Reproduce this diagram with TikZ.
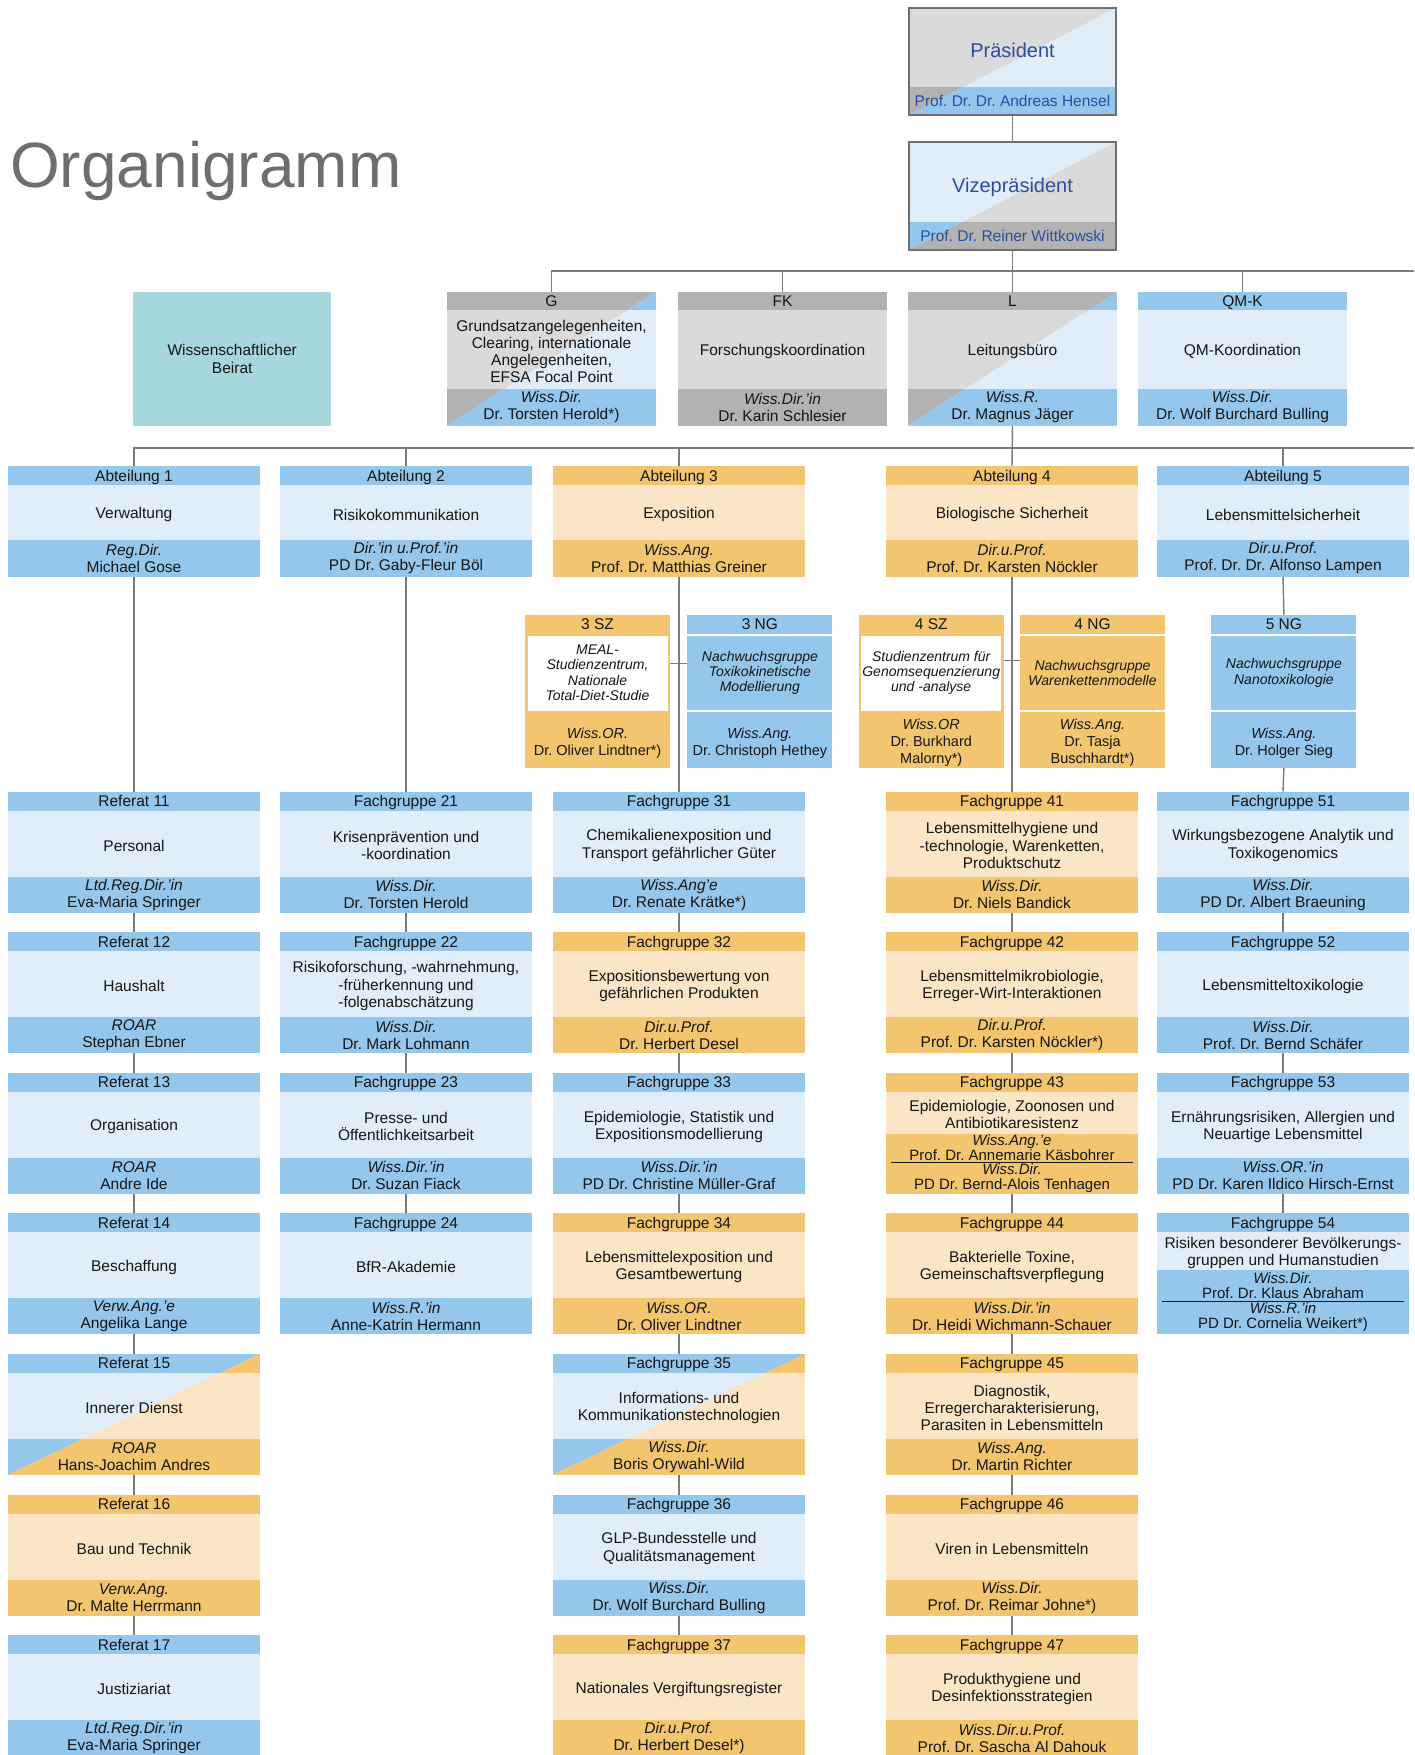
\documentclass[tikz,border=0pt]{standalone}
\usepackage{fontspec}
\setmainfont{Liberation Sans}

\definecolor{blueD}{HTML}{95C6EB}
\definecolor{blueL}{HTML}{E1EDF8}
\definecolor{orangeD}{HTML}{F2C56E}
\definecolor{orangeL}{HTML}{FAE6C6}
\definecolor{grayD}{HTML}{B2B2B2}
\definecolor{grayL}{HTML}{DADADA}
\definecolor{teal}{HTML}{A6D7DC}
\definecolor{chiefblue}{HTML}{2B4EA0}
\definecolor{titlegray}{HTML}{6E6E6E}
\definecolor{linkgray}{HTML}{7A7A7A}
\definecolor{framegray}{HTML}{6F6F6F}
\definecolor{ink}{HTML}{161616}

\def\boxw{252}\def\boxh{121}\def\headh{19}\def\footh{36}
\def\footfont{\fontsize{15.5}{17}\selectfont}
\def\footdrop{0}

\tikzset{
  orgunit/.style={rectangle, inner sep=0pt, outer sep=0pt, anchor=north west,
    minimum width=\boxw, minimum height=\boxh},
  headtext/.style={inner sep=0pt, text=ink, text height=11.1pt, text depth=0pt,
    font=\fontsize{15.5}{17}\selectfont},
  bodytext/.style={inner sep=0pt, align=center, text=ink, yshift=-2pt,
    font=\fontsize{15.5}{17.2}\selectfont},
  sidetext/.style={inner sep=0pt, align=center, text=ink,
    font=\fontsize{14}{15.3}\selectfont\itshape},
  foottext/.style={inner sep=0pt, align=center, text=ink, font=\footfont},
  chieftitle/.style={inner sep=0pt, text=chiefblue, text height=14.3pt, text depth=0pt,
    font=\fontsize{20}{24}\selectfont},
  chiefname/.style={inner sep=0pt, text=chiefblue, text height=11.1pt, text depth=0pt,
    font=\fontsize{15.5}{17}\selectfont},
  chiefframe/.style={draw=framegray, line width=2.2pt},
  beirat/.style={rectangle, anchor=north west, inner sep=0pt, fill=teal, text=ink,
    minimum width=198, minimum height=133.5, align=center,
    font=\fontsize{15.5}{17.2}\selectfont},
  titletext/.style={anchor=base west, inner sep=0pt, text=titlegray,
    font=\fontsize{64}{70}\selectfont},
  link/.style={draw=linkgray, line width=1.4pt},
  sepline/.style={draw=ink, line width=0.9pt},
}

% the three colour bands of a unit
\newcommand\bands[2]{%
  \fill[#2L] (#1.north west) rectangle (#1.south east);
  \fill[#2D] (#1.north west) rectangle ([yshift=-\headh]#1.north east);
  \fill[#2D] ([yshift=\footh]#1.south west) rectangle (#1.south east);
}

% [split scheme]{name}{x}{y}{scheme}{head}{body}{title}{person}
\newcommand\orgbox[9][]{%
  \node[orgunit] (#2) at (#3,#4) {};
  \bands{#2}{#5}
  \ifx\relax#1\relax\else
    \begin{scope}
      \clip (#2.south west) -- (#2.north east) -- (#2.south east) -- cycle;
      \bands{#2}{#1}
    \end{scope}
  \fi
  \node[headtext] at ([yshift={-\headh/2}]#2.north) {#6};
  \node[bodytext] at ([yshift={-\headh-(\boxh-\headh-\footh)/2}]#2.north) {#7};
  \node[foottext] at ([yshift={\footh/2}]#2.south) {\textit{#8}\\#9};
}

% {s|n}{name}{x}{scheme}{head}{body}{title}{person}
\newcommand\sidebox[8]{%
  \node[orgunit] (#2) at (#3,614.7) {};
  \fill[#4D] (#2.north west) rectangle (#2.south east);
  \if s#1
    \fill[white] ([xshift=2.5,yshift={-\headh-2}]#2.north west)
      rectangle ([xshift=-2.5,yshift={\footh+1.5}]#2.south east);
  \else
    \fill[white] ([yshift=-\headh]#2.north west) rectangle ([yshift={-\headh-2}]#2.north east);
    \fill[white] ([yshift=\footh]#2.south west) rectangle ([yshift={\footh+2}]#2.south east);
  \fi
  \node[headtext] at ([yshift={-\headh/2}]#2.north) {#5};
  \node[sidetext] at ([yshift={-\headh-(\boxh-\headh-\footh)/2}]#2.north) {#6};
  \node[foottext] at ([yshift={\footh/2-3}]#2.south) {\textit{#7}\\#8};
}

% {name}{y}{scheme}{split scheme}{title}{person}
\newcommand\chiefbox[6]{%
  \node[orgunit] (#1) at (909,#2) {};
  \bands{#1}{#3}
  \begin{scope}
    \clip (#1.south west) -- (#1.north east) -- (#1.south east) -- cycle;
    \bands{#1}{#4}
  \end{scope}
  \node[chieftitle] at ([yshift={-(\boxh-\footh)/2-3}]#1.north) {#5};
  \node[chiefname] at ([yshift={\footh/2}]#1.south) {#6};
  \draw[chiefframe] (#1.north west) rectangle (#1.south east);
}

\begin{document}
\frenchspacing
\begin{tikzpicture}[x=1pt, y=-1pt]
\useasboundingbox (0,0) rectangle (1414,1755);

\node[titletext] (title) at (10,188) {Organigramm};

% Leitung
\def\boxw{207}\def\headh{0}\def\footh{28}
\def\boxh{107}\chiefbox{pres}{8}{gray}{blue}{Präsident}{Prof. Dr. Dr. Andreas Hensel}
\def\boxh{108}\chiefbox{vize}{142}{blue}{gray}{Vizepräsident}{Prof. Dr. Reiner Wittkowski}

% Stabsstellen
\def\boxw{209}\def\boxh{133.5}\def\headh{18}\def\footh{36.5}
\node[beirat] (beirat) at (133,292) {Wissenschaftlicher\\Beirat};
\orgbox[blue]{g}{447}{292}{gray}{G}{Grundsatzangelegenheiten,\\Clearing, internationale\\Angelegenheiten,\\EFSA Focal Point}{Wiss.Dir.}{Dr. Torsten Herold*)}
\orgbox{fk}{678}{292}{gray}{FK}{Forschungskoordination}{Wiss.Dir.'in}{Dr. Karin Schlesier}
\orgbox[blue]{l}{908}{292}{gray}{L}{Leitungsbüro}{Wiss.R.}{Dr. Magnus Jäger}
\orgbox{qmk}{1138}{292}{blue}{QM-K}{QM-Koordination}{Wiss.Dir.}{Dr. Wolf Burchard Bulling}

% Abteilungen
\def\boxw{252}\def\boxh{110.6}\def\headh{19}\def\footh{36.6}
\orgbox{abt1}{8}{466}{blue}{Abteilung 1}{Verwaltung}{Reg.Dir.}{Michael Gose}
\orgbox{abt2}{280}{466}{blue}{Abteilung 2}{Risikokommunikation}{Dir.'in u.Prof.'in}{PD Dr. Gaby-Fleur Böl}
\orgbox{abt3}{553}{466}{orange}{Abteilung 3}{Exposition}{Wiss.Ang.}{Prof. Dr. Matthias Greiner}
\orgbox{abt4}{886}{466}{orange}{Abteilung 4}{Biologische Sicherheit}{Dir.u.Prof.}{Prof. Dr. Karsten Nöckler}
\orgbox{abt5}{1157}{466}{blue}{Abteilung 5}{Lebensmittelsicherheit}{Dir.u.Prof.}{Prof. Dr. Dr. Alfonso Lampen}

% Studienzentren und Nachwuchsgruppen
\def\boxw{145}\def\boxh{153.3}\def\headh{19}\def\footh{56}
\def\footfont{\fontsize{14.5}{17}\selectfont}
\sidebox{s}{sz3}{525}{orange}{3 SZ}{MEAL-\\Studienzentrum,\\Nationale\\Total-Diet-Studie}{Wiss.OR.}{Dr. Oliver Lindtner*)}
\sidebox{n}{ng3}{687.4}{blue}{3 NG}{Nachwuchsgruppe\\Toxikokinetische\\Modellierung}{Wiss.Ang.}{Dr. Christoph Hethey}
\sidebox{s}{sz4}{858.7}{orange}{4 SZ}{Studienzentrum für\\Genomsequenzierung\\und -analyse}{Wiss.OR}{Dr. Burkhard\\Malorny*)}
\sidebox{n}{ng4}{1020}{orange}{4 NG}{Nachwuchsgruppe\\Warenkettenmodelle}{Wiss.Ang.}{Dr. Tasja\\Buschhardt*)}
\sidebox{n}{ng5}{1211.4}{blue}{5 NG}{Nachwuchsgruppe\\Nanotoxikologie}{Wiss.Ang.}{Dr. Holger Sieg}

% Referate und Fachgruppen
\def\boxw{252}\def\boxh{121}\def\headh{19}\def\footh{36}
\def\footfont{\fontsize{15.5}{17}\selectfont}
\orgbox{ref11}{8}{791.5}{blue}{Referat 11}{Personal}{Ltd.Reg.Dir.'in}{Eva-Maria Springer}
\orgbox{ref12}{8}{932.1}{blue}{Referat 12}{Haushalt}{ROAR}{Stephan Ebner}
\orgbox{ref13}{8}{1072.7}{blue}{Referat 13}{Organisation}{ROAR}{Andre Ide}
\orgbox{ref14}{8}{1213.3}{blue}{Referat 14}{Beschaffung}{Verw.Ang.'e}{Angelika Lange}
\orgbox[orange]{ref15}{8}{1353.9}{blue}{Referat 15}{Innerer Dienst}{ROAR}{Hans-Joachim Andres}
\orgbox{ref16}{8}{1494.5}{orange}{Referat 16}{Bau und Technik}{Verw.Ang.}{Dr. Malte Herrmann}
\orgbox{ref17}{8}{1635.1}{blue}{Referat 17}{Justiziariat}{Ltd.Reg.Dir.'in}{Eva-Maria Springer}

\orgbox{fg21}{280}{791.5}{blue}{Fachgruppe 21}{Krisenprävention und\\-koordination}{Wiss.Dir.}{Dr. Torsten Herold}
\orgbox{fg22}{280}{932.1}{blue}{Fachgruppe 22}{Risikoforschung, -wahrnehmung,\\-früherkennung und\\-folgenabschätzung}{Wiss.Dir.}{Dr. Mark Lohmann}
\orgbox{fg23}{280}{1072.7}{blue}{Fachgruppe 23}{Presse- und\\Öffentlichkeitsarbeit}{Wiss.Dir.'in}{Dr. Suzan Fiack}
\orgbox{fg24}{280}{1213.3}{blue}{Fachgruppe 24}{BfR-Akademie}{Wiss.R.'in}{Anne-Katrin Hermann}

\orgbox{fg31}{553}{791.5}{blue}{Fachgruppe 31}{Chemikalienexposition und\\Transport gefährlicher Güter}{Wiss.Ang'e}{Dr. Renate Krätke*)}
\orgbox{fg32}{553}{932.1}{orange}{Fachgruppe 32}{Expositionsbewertung von\\gefährlichen Produkten}{Dir.u.Prof.}{Dr. Herbert Desel}
\orgbox{fg33}{553}{1072.7}{blue}{Fachgruppe 33}{Epidemiologie, Statistik und\\Expositionsmodellierung}{Wiss.Dir.'in}{PD Dr. Christine Müller-Graf}
\orgbox{fg34}{553}{1213.3}{orange}{Fachgruppe 34}{Lebensmittelexposition und\\Gesamtbewertung}{Wiss.OR.}{Dr. Oliver Lindtner}
\orgbox[orange]{fg35}{553}{1353.9}{blue}{Fachgruppe 35}{Informations- und\\Kommunikationstechnologien}{Wiss.Dir.}{Boris Orywahl-Wild}
\orgbox{fg36}{553}{1494.5}{blue}{Fachgruppe 36}{GLP-Bundesstelle und\\Qualitätsmanagement}{Wiss.Dir.}{Dr. Wolf Burchard Bulling}
\orgbox{fg37}{553}{1635.1}{orange}{Fachgruppe 37}{Nationales Vergiftungsregister}{Dir.u.Prof.}{Dr. Herbert Desel*)}

\orgbox{fg41}{886}{791.5}{orange}{Fachgruppe 41}{Lebensmittelhygiene und\\-technologie, Warenketten,\\Produktschutz}{Wiss.Dir.}{Dr. Niels Bandick}
\orgbox{fg42}{886}{932.1}{orange}{Fachgruppe 42}{Lebensmittelmikrobiologie,\\Erreger-Wirt-Interaktionen}{Dir.u.Prof.}{Prof. Dr. Karsten Nöckler*)}
{\def\footh{60}\def\footfont{\fontsize{15}{14.8}\selectfont}
\orgbox{fg43}{886}{1072.7}{orange}{Fachgruppe 43}{Epidemiologie, Zoonosen und\\Antibiotikaresistenz}{Wiss.Ang.'e}{Prof. Dr. Annemarie Käsbohrer\\\textit{Wiss.Dir.}\\PD Dr. Bernd-Alois Tenhagen}}
\draw[sepline] ([xshift=5,yshift=31]fg43.south west) -- ([xshift=-5,yshift=31]fg43.south east);
\orgbox{fg44}{886}{1213.3}{orange}{Fachgruppe 44}{Bakterielle Toxine,\\Gemeinschaftsverpflegung}{Wiss.Dir.'in}{Dr. Heidi Wichmann-Schauer}
\orgbox{fg45}{886}{1353.9}{orange}{Fachgruppe 45}{Diagnostik,\\Erregercharakterisierung,\\Parasiten in Lebensmitteln}{Wiss.Ang.}{Dr. Martin Richter}
\orgbox{fg46}{886}{1494.5}{orange}{Fachgruppe 46}{Viren in Lebensmitteln}{Wiss.Dir.}{Prof. Dr. Reimar Johne*)}
\orgbox{fg47}{886}{1635.1}{orange}{Fachgruppe 47}{Produkthygiene und\\Desinfektionsstrategien}{Wiss.Dir.u.Prof.}{Prof. Dr. Sascha Al Dahouk}

\orgbox{fg51}{1157}{791.5}{blue}{Fachgruppe 51}{Wirkungsbezogene Analytik und\\Toxikogenomics}{Wiss.Dir.}{PD Dr. Albert Braeuning}
\orgbox{fg52}{1157}{932.1}{blue}{Fachgruppe 52}{Lebensmitteltoxikologie}{Wiss.Dir.}{Prof. Dr. Bernd Schäfer}
\orgbox{fg53}{1157}{1072.7}{blue}{Fachgruppe 53}{Ernährungsrisiken, Allergien und\\Neuartige Lebensmittel}{Wiss.OR.'in}{PD Dr. Karen Ildico Hirsch-Ernst}
{\def\footh{64}\def\footfont{\fontsize{15}{14.8}\selectfont}
\orgbox{fg54}{1157}{1213.3}{blue}{Fachgruppe 54}{Risiken besonderer Bevölkerungs-\\gruppen und Humanstudien}{Wiss.Dir.}{Prof. Dr. Klaus Abraham\\\textit{Wiss.R.'in}\\PD Dr. Cornelia Weikert*)}}
\draw[sepline] ([xshift=5,yshift=32.5]fg54.south west) -- ([xshift=-5,yshift=32.5]fg54.south east);

% connectors
\coordinate (bus1) at (1414,271);
\coordinate (bus2) at (1414,448);
\draw[link] (g.north) |- (bus1);
\foreach \n in {fk,qmk}
  \draw[link] (\n.north) -- (\n.north |- bus1);
\draw[link] (abt1.north) |- (bus2);
\foreach \n in {abt2,abt3,abt5}
  \draw[link] (\n.north) -- (\n.north |- bus2);
\foreach \a/\b in {pres/vize, vize/l, l/abt4,
    abt1/ref11, ref11/ref12, ref12/ref13, ref13/ref14, ref14/ref15, ref15/ref16, ref16/ref17,
    abt2/fg21, fg21/fg22, fg22/fg23, fg23/fg24,
    abt3/fg31, fg31/fg32, fg32/fg33, fg33/fg34, fg34/fg35, fg35/fg36, fg36/fg37,
    abt4/fg41, fg41/fg42, fg42/fg43, fg43/fg44, fg44/fg45, fg45/fg46, fg46/fg47,
    abt5/ng5, ng5/fg51, fg51/fg52, fg52/fg53, fg53/fg54}
  \draw[link] (\a.south) -- (\b.north);
\draw[link] ([yshift=-49]sz3.north east) -- ([yshift=-49]ng3.north west);
\draw[link] ([yshift=-46]sz4.north east) -- ([yshift=-46]ng4.north west);
\end{tikzpicture}
\end{document}
